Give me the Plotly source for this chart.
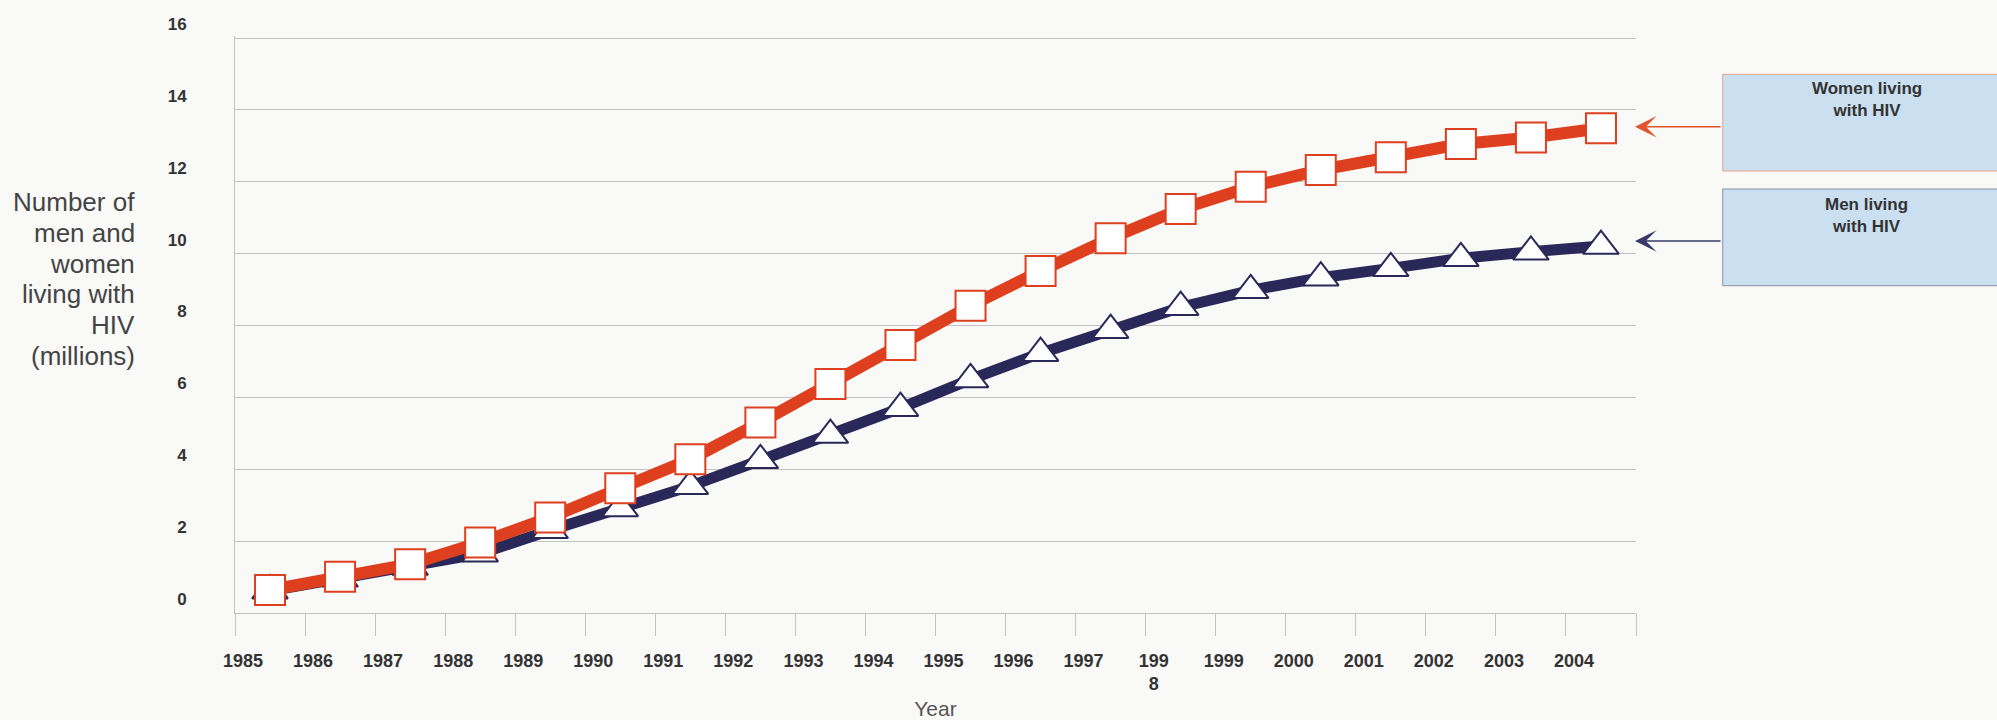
import plotly.graph_objects as go

# ---- data ----
years = list(range(1985, 2005))
year_labels = [str(y) for y in years]
year_labels[13] = "199<br>8"   # wrapped label as in the original
women = [0.64, 1.01, 1.36, 1.96, 2.66, 3.47, 4.28, 5.30, 6.37, 7.46,
         8.55, 9.52, 10.43, 11.24, 11.86, 12.33, 12.68, 13.05, 13.23, 13.49]
men = [0.62, 0.95, 1.28, 1.65, 2.30, 2.91, 3.53, 4.25, 4.95, 5.70,
       6.50, 7.23, 7.87, 8.51, 8.98, 9.33, 9.59, 9.87, 10.05, 10.21]
y_ticks = list(range(0, 17, 2))
women_label = "Women living<br>with HIV"
men_label = "Men living<br>with HIV"
y_title_lines = ["Number of", "men and", "women", "living with", "HIV", "(millions)"]
x_title = "Year"

RED = "#DE3F1E"
NAVY = "#2A2858"
GRID = "#C2C2C2"
TXT = "#333333"
BG = "#F9F9F8"

T, B = 36, 107
plot_h = 720 - T - B          # 577 px
px_per_unit = 575 / 16.0      # 16 gridline sits at y=38 px

fig = go.Figure()
fig.add_trace(go.Scatter(
    x=years, y=men, mode="lines+markers", name="Men living with HIV",
    line=dict(color=NAVY, width=11),
    marker=dict(symbol="triangle-up", size=31, color="white",
                line=dict(color=NAVY, width=2)),
    showlegend=False))
fig.add_trace(go.Scatter(
    x=years, y=women, mode="lines+markers", name="Women living with HIV",
    line=dict(color=RED, width=12),
    marker=dict(symbol="square", size=30, color="white",
                line=dict(color=RED, width=2)),
    showlegend=False))

fig.update_layout(
    width=1997, height=720, autosize=False,
    margin=dict(l=235, r=361, t=T, b=B, pad=0, autoexpand=False),
    paper_bgcolor=BG, plot_bgcolor=BG,
    font=dict(family="Liberation Sans, Arial, sans-serif", color=TXT),
)

fig.update_xaxes(
    automargin=False,
    range=[years[0] - 0.5, years[-1] + 0.5],
    tickmode="array",
    tickvals=[y - 0.5 for y in years] + [years[-1] + 0.5],
    ticktext=year_labels + [""],
    ticks="outside", ticklen=22, tickwidth=1, tickcolor=GRID,
    showgrid=False, zeroline=False,
    showline=True, linecolor=GRID, linewidth=1,
    tickfont=dict(size=18, color=TXT, weight="bold"),
    ticklabelshift=8, ticklabelstandoff=9,
    title=dict(text=x_title, font=dict(size=21, color="#555555"), standoff=8),
)
fig.update_yaxes(
    automargin=False,
    range=[0, plot_h / px_per_unit],
    tickmode="array", tickvals=y_ticks,
    ticks="", showgrid=True, gridcolor=GRID, gridwidth=1,
    zeroline=False, showline=True, linecolor=GRID, linewidth=1,
    tickfont=dict(size=17, color=TXT, weight="bold"),
    ticklabelshift=-14, ticklabelstandoff=44,
)

# helpers: pixel -> paper
def py2paper(py):
    return (720 - B - py) / plot_h

# y-axis title (horizontal, right aligned), one annotation per line
line_top_px = 202.0
line_gap_px = 30.8
for i, txt in enumerate(y_title_lines):
    fig.add_annotation(xref="paper", yref="paper", x=-0.0699,
                       y=py2paper(line_top_px + i * line_gap_px),
                       xanchor="right", yanchor="middle", align="right",
                       text=txt, showarrow=False,
                       font=dict(size=26, color="#444444"))

# label boxes
fig.add_shape(type="rect", xref="paper", yref="paper",
              x0=1.0619, x1=1.30, y0=py2paper(171), y1=py2paper(74.3),
              fillcolor="#CADFEF", line=dict(color="#E7A68C", width=1))
fig.add_shape(type="rect", xref="paper", yref="paper",
              x0=1.0619, x1=1.30, y0=py2paper(285.7), y1=py2paper(189),
              fillcolor="#CADFEF", line=dict(color="#8592A6", width=1))
fig.add_annotation(xref="paper", yref="paper", x=1.1647, y=py2paper(77),
                   xanchor="center", yanchor="top", align="center",
                   text=women_label, showarrow=False,
                   font=dict(size=17, color="#333333", weight="bold"))
fig.add_annotation(xref="paper", yref="paper", x=1.1647, y=py2paper(192.8),
                   xanchor="center", yanchor="top", align="center",
                   text=men_label, showarrow=False,
                   font=dict(size=17, color="#333333", weight="bold"))

# arrows from boxes to the line ends
fig.add_annotation(xref="paper", yref="paper", x=0.9993, y=py2paper(126.7),
                   text="", showarrow=True, ax=87, ay=0,
                   arrowhead=3, arrowsize=2.4, arrowwidth=1.5, arrowcolor="#E0552F")
fig.add_annotation(xref="paper", yref="paper", x=0.9993, y=py2paper(241),
                   text="", showarrow=True, ax=87, ay=0,
                   arrowhead=3, arrowsize=2.4, arrowwidth=1.5, arrowcolor="#3A3A6A")

fig.write_html("out.html", config={"displayModeBar": False},
               post_script="document.body.style.margin='0px';"
                           "document.body.style.background='" + BG + "';")
